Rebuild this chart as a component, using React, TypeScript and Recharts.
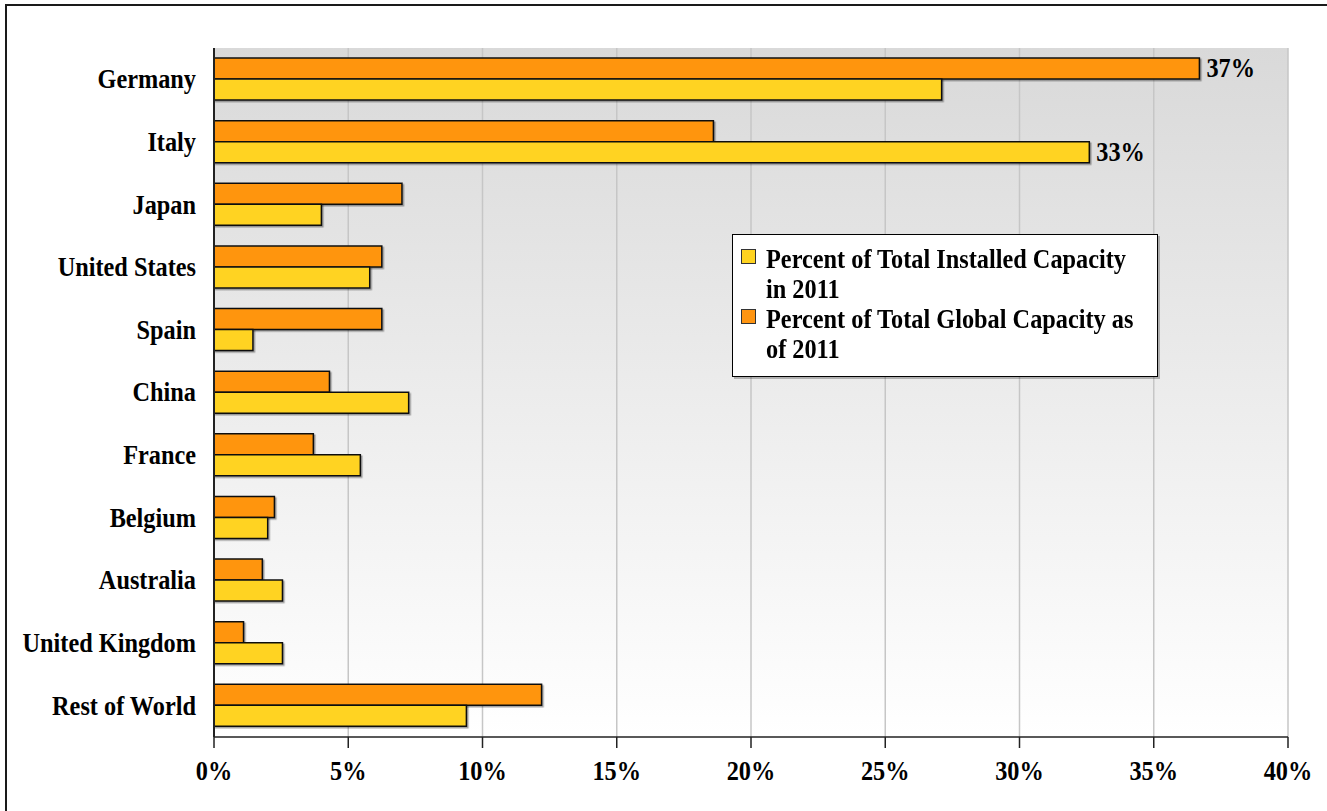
import React from 'react';
import {
  Bar, BarChart, CartesianGrid, LabelList, XAxis, YAxis,
} from 'recharts';

const countries = [
  'Germany', 'Italy', 'Japan', 'United States', 'Spain', 'China',
  'France', 'Belgium', 'Australia', 'United Kingdom', 'Rest of World',
];
// share of global cumulative capacity (orange, top bar)
const globalShare = [36.7, 18.6, 7.0, 6.25, 6.25, 4.3, 3.7, 2.25, 1.8, 1.1, 12.2];
// share of capacity installed during 2011 (yellow, lower bar)
const installedShare = [27.1, 32.6, 4.0, 5.8, 1.45, 7.25, 5.45, 2.0, 2.55, 2.55, 9.4];
const globalLabels = ['37%', '', '', '', '', '', '', '', '', '', ''];
const installedLabels = ['', '33%', '', '', '', '', '', '', '', '', ''];
const xTicks = [0, 5, 10, 15, 20, 25, 30, 35, 40];

const installedName = 'Percent of Total Installed Capacity in 2011';
const globalName = 'Percent of Total Global Capacity as of 2011';

const data = countries.map((country, i) => ({
  country,
  global: globalShare[i],
  installed: installedShare[i],
  globalLabel: globalLabels[i],
  installedLabel: installedLabels[i],
}));

// band boundaries for the tick marks between categories
const boundaryTicks = [...countries.map((_, i) => i), countries.length];

const FONT = '"Liberation Serif", "Times New Roman", serif';
const SQUEEZE = 0.9; // text in the original is narrow and tall
const textStyle = { fontFamily: FONT, fontSize: 27, fontWeight: 700, fill: '#000' };

const ORANGE = '#ff9511';
const YELLOW = '#ffd320';

const CountryTick = (props: any) => {
  const { x, y, payload } = props;
  return (
    <g transform={`translate(${x},${y}) scale(${SQUEEZE},1)`}>
      <text textAnchor="end" dominantBaseline="central" style={textStyle}>{payload.value}</text>
    </g>
  );
};

const PercentTick = (props: any) => {
  const { x, y, payload } = props;
  return (
    <g transform={`translate(${x},${y}) scale(${SQUEEZE},1)`}>
      <text textAnchor="middle" dy="0.68em" style={textStyle}>{`${payload.value}%`}</text>
    </g>
  );
};

const EndLabel = (props: any) => {
  const { x, y, width, height, value } = props;
  if (!value) return null;
  return (
    <g transform={`translate(${x + width + 7},${y + height / 2}) scale(${SQUEEZE},1)`}>
      <text dominantBaseline="central" style={textStyle}>{value}</text>
    </g>
  );
};

const legendItems = [
  { name: installedName, color: YELLOW },
  { name: globalName, color: ORANGE },
];

export default function App() {
  return (
    <div style={{ position: 'fixed', left: 0, top: 0, width: 1327, height: 811, overflow: 'hidden', background: '#fff' }}>
      {/* outer frame */}
      <div style={{ position: 'absolute', left: 5, top: 4, width: 1400, height: 900, border: '2px solid #1a1a1a' }} />

      <div style={{ position: 'absolute', left: 0, top: 0 }}>
        <BarChart width={1327} height={811} data={data} layout="vertical"
          margin={{ top: 48, right: 39, bottom: 14, left: 0 }}
          barSize={21} barGap={0}>
          <defs>
            <linearGradient id="plotBg" x1="0" y1="0" x2="0" y2="1">
              <stop offset="0%" stopColor="#d9d9d9" />
              <stop offset="100%" stopColor="#ffffff" />
            </linearGradient>
            <filter id="barShadow" x="-5%" y="-20%" width="115%" height="150%">
              <feDropShadow dx="1.5" dy="1.5" stdDeviation="0.4" floodColor="#000" floodOpacity="0.35" />
            </filter>
          </defs>
          <CartesianGrid horizontal={false} stroke="#c6c6c6" strokeWidth={1.5} fill="url(#plotBg)" />
          <XAxis type="number" domain={[0, 40]} ticks={xTicks} height={60}
            tick={<PercentTick />} tickSize={11} tickMargin={14}
            axisLine={{ stroke: '#222', strokeWidth: 1.5 }}
            tickLine={{ stroke: '#222', strokeWidth: 1.5 }} />
          <YAxis yAxisId="bounds" type="number" domain={[0, countries.length]} ticks={boundaryTicks}
            width={0} tick={false} tickSize={11}
            axisLine={{ stroke: '#222', strokeWidth: 2 }}
            tickLine={{ stroke: '#222', strokeWidth: 2 }} />
          <YAxis yAxisId="cat" type="category" dataKey="country" width={214}
            tick={<CountryTick />} tickLine={false} tickSize={0} tickMargin={18}
            axisLine={{ stroke: '#222', strokeWidth: 2 }} interval={0} />
          <Bar yAxisId="cat" dataKey="global" name={globalName} fill={ORANGE}
            stroke="#111" strokeWidth={1.5} filter="url(#barShadow)" isAnimationActive={false}>
            <LabelList dataKey="globalLabel" content={EndLabel} />
          </Bar>
          <Bar yAxisId="cat" dataKey="installed" name={installedName} fill={YELLOW}
            stroke="#111" strokeWidth={1.5} filter="url(#barShadow)" isAnimationActive={false}>
            <LabelList dataKey="installedLabel" content={EndLabel} />
          </Bar>
        </BarChart>
      </div>

      {/* legend */}
      <div style={{
        position: 'absolute', left: 732, top: 234, width: 426, height: 143, boxSizing: 'border-box',
        padding: '9px 0 0 0', background: '#fff', border: '1px solid #000',
        boxShadow: '2px 2px 0 rgba(0,0,0,0.25)',
        fontFamily: FONT, fontSize: 27, fontWeight: 700, lineHeight: '30px', color: '#000',
      }}>
        {legendItems.map((item) => (
          <div key={item.name} style={{ position: 'relative', paddingLeft: 33 }}>
            <span style={{
              position: 'absolute', left: 8, top: 5, width: 13, height: 13,
              background: item.color, border: '1px solid #333',
            }} />
            <div style={{ width: 420, transform: `scaleX(${SQUEEZE})`, transformOrigin: 'left top' }}>
              {item.name}
            </div>
          </div>
        ))}
      </div>
    </div>
  );
}
